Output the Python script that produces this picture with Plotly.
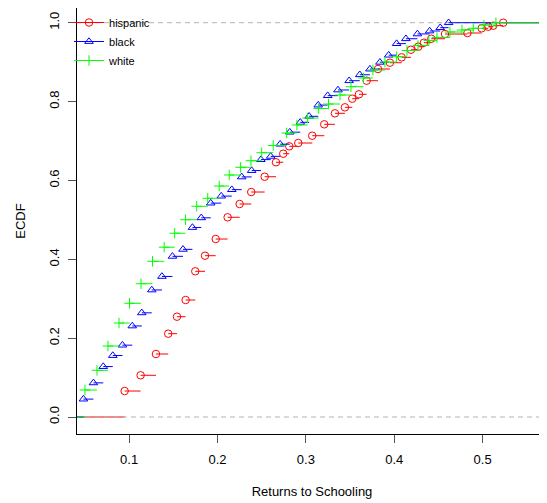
import plotly.graph_objects as go

# ---- data (ECDF knots and ECDF values) ----
hisp_x = [0.0950, 0.1131, 0.1304, 0.1443, 0.1542, 0.1640, 0.1749, 0.1859, 0.1980, 0.2115,
          0.2251, 0.2382, 0.2534, 0.2662, 0.2744, 0.2812, 0.2914, 0.3072, 0.3208, 0.3329,
          0.3442, 0.3525, 0.3601, 0.3688, 0.3816, 0.3951, 0.4084, 0.4189, 0.4271, 0.4336,
          0.4419, 0.4574, 0.4828, 0.4989, 0.5063, 0.5120, 0.5233]
hisp_y = [0.0659, 0.1058, 0.1598, 0.2113, 0.2544, 0.2967, 0.3695, 0.4091, 0.4514, 0.5065,
          0.5402, 0.5706, 0.6094, 0.6460, 0.6678, 0.6865, 0.6949, 0.7134, 0.7423, 0.7702,
          0.7854, 0.8073, 0.8184, 0.8529, 0.8826, 0.8986, 0.9122, 0.9315, 0.9391, 0.9493,
          0.9594, 0.9713, 0.9739, 0.9858, 0.9899, 0.9924, 1.0]

black_x = [0.0484, 0.0597, 0.0708, 0.0816, 0.0925, 0.1036, 0.1144, 0.1257, 0.1372, 0.1491,
           0.1610, 0.1717, 0.1817, 0.1924, 0.2043, 0.2162, 0.2274, 0.2387, 0.2492, 0.2602,
           0.2709, 0.2818, 0.2937, 0.3037, 0.3140, 0.3247, 0.3363, 0.3490, 0.3610, 0.3725,
           0.3838, 0.3937, 0.4027, 0.4132, 0.4262, 0.4400, 0.4520, 0.4615]
black_y = [0.0454, 0.0866, 0.1279, 0.1559, 0.1822, 0.2309, 0.2642, 0.3222, 0.3565, 0.4075,
           0.4252, 0.4807, 0.5052, 0.5425, 0.5602, 0.5766, 0.6089, 0.6250, 0.6528, 0.6611,
           0.6919, 0.7224, 0.7474, 0.7626, 0.7911, 0.8150, 0.8294, 0.8529, 0.8680, 0.8824,
           0.8996, 0.9177, 0.9470, 0.9594, 0.9715, 0.9790, 0.9874, 1.0]

white_x = [0.0501, 0.0637, 0.0761, 0.0886, 0.1005, 0.1135, 0.1265, 0.1397, 0.1516, 0.1638,
           0.1765, 0.1890, 0.2020, 0.2133, 0.2262, 0.2379, 0.2500, 0.2631, 0.2783, 0.2899,
           0.3020, 0.3145, 0.3256, 0.3386, 0.3510, 0.3652, 0.3759, 0.3895, 0.4027, 0.4144,
           0.4268, 0.4392, 0.4483, 0.4630, 0.4766, 0.4894, 0.5015, 0.5150]
white_y = [0.0685, 0.1184, 0.1801, 0.2384, 0.2884, 0.3381, 0.3949, 0.4306, 0.4661, 0.5004,
           0.5344, 0.5547, 0.5858, 0.6138, 0.6333, 0.6500, 0.6703, 0.6886, 0.7203, 0.7406,
           0.7583, 0.7824, 0.7938, 0.8166, 0.8377, 0.8598, 0.8800, 0.9003, 0.9138, 0.9295,
           0.9422, 0.9549, 0.9625, 0.9764, 0.9815, 0.9858, 0.9942, 1.0]

x_ticks = [0.1, 0.2, 0.3, 0.4, 0.5]
y_ticks = [0.0, 0.2, 0.4, 0.6, 0.8, 1.0]

XMIN, XMAX = 0.0411, 0.5728
YMIN, YMAX = -0.0431, 1.0373

FONT = "Liberation Sans, Arial, sans-serif"


def steps(xs, ys):
    sx, sy = [XMIN, xs[0], None], [0, 0, None]
    for i in range(len(xs)):
        nxt = xs[i + 1] if i + 1 < len(xs) else XMAX
        sx += [xs[i], nxt, None]
        sy += [ys[i], ys[i], None]
    return sx, sy


fig = go.Figure()

series = [
    ("hispanic", hisp_x, hisp_y, "#FF0000", "circle-open", 7.5),
    ("black", black_x, black_y, "#0000FF", "triangle-up-open", 7.5),
    ("white", white_x, white_y, "#00FF00", "cross-thin-open", 7.5),
]

for idx, (name, xs, ys, col, sym, sz) in enumerate(series):
    sx, sy = steps(xs, ys)
    fig.add_trace(go.Scatter(x=sx, y=sy, mode="lines", line=dict(color=col, width=1),
                             showlegend=False, hoverinfo="skip"))
    fig.add_trace(go.Scatter(x=xs, y=ys, mode="markers",
                             marker=dict(symbol=sym, size=sz, color=col, line=dict(color=col, width=1)),
                             showlegend=False, name=name))
    if idx == 0:
        # gray dashed reference lines at 0 and 1
        fig.add_trace(go.Scatter(x=[XMIN, XMAX, None, XMIN, XMAX], y=[0, 0, None, 1, 1],
                                 mode="lines", line=dict(color="#B3B3B3", width=1, dash="5px,4px"),
                                 showlegend=False, hoverinfo="skip"))

for name, xs, ys, col, sym, sz in series:
    fig.add_trace(go.Scatter(x=[None], y=[None], mode="lines+markers", name=name,
                             line=dict(color=col, width=1),
                             marker=dict(symbol=sym, size=sz, color=col, line=dict(color=col, width=1))))

# the page adds an 8px body margin, so the figure is sized to the visible area
fig.update_layout(
    width=539, height=495,
    margin=dict(l=69, r=0, t=0, b=69, pad=0),
    paper_bgcolor="white", plot_bgcolor="white",
    font=dict(family=FONT, size=13, color="#000000"),
    showlegend=True,
    legend=dict(x=-0.017, y=1.0, xanchor="left", yanchor="top", bgcolor="rgba(0,0,0,0)",
                borderwidth=0, font=dict(size=11), itemwidth=30, tracegroupgap=0),
    xaxis=dict(range=[XMIN, XMAX], tickvals=x_ticks, ticktext=[f"{v:.1f}" for v in x_ticks],
               showgrid=False, zeroline=False, showline=True, linecolor="#000000", linewidth=1,
               mirror=True, ticks="outside", ticklen=8, tickcolor="#555555", ticklabelstandoff=5,
               title=dict(text="Returns to Schooling", standoff=21, font=dict(size=13))),
    yaxis=dict(range=[YMIN, YMAX], tickvals=y_ticks, ticktext=[f"{v:.1f}" for v in y_ticks],
               showgrid=False, zeroline=False, showline=True, linecolor="#000000", linewidth=1,
               ticks="outside", ticklen=8, tickcolor="#555555", tickangle=-90, ticklabelstandoff=4,
               title=dict(text="ECDF", standoff=18, font=dict(size=13))),
)

fig.write_html("out.html")
